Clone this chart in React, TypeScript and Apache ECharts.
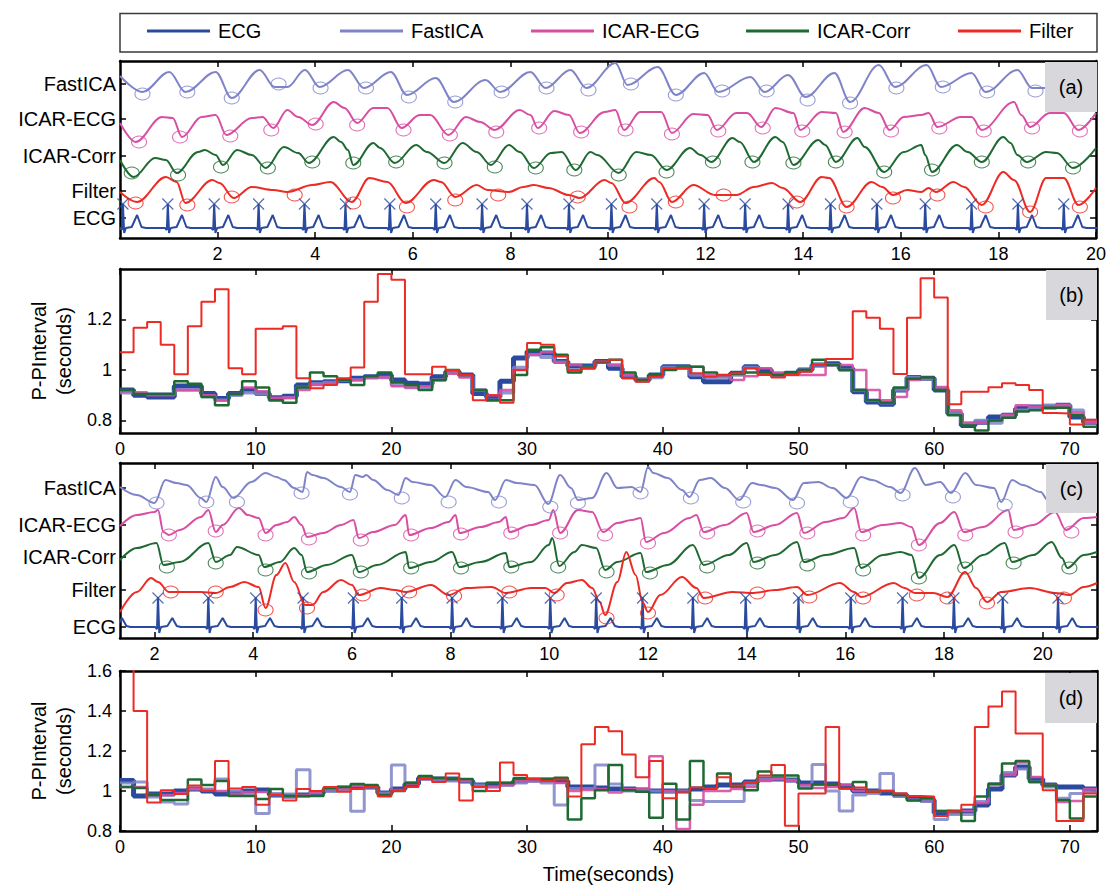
import React, { useEffect, useRef } from 'react';
import * as echarts from 'echarts';

const FONT = '"Liberation Sans", Arial, Helvetica, sans-serif';
const C_ECG = '#294a9e';
const C_FAST = '#7f84c8';
const C_IECG = '#d84ea2';
const C_ICORR = '#1f6a33';
const C_FILT = '#ec2b25';

const LEGEND_NAMES = ['ECG', 'FastICA', 'ICAR-ECG', 'ICAR-Corr', 'Filter'];
const LEGEND_X = [147, 340, 531, 746, 958];

// ---------- Panel (a) ----------
const A_X_TICKS = [2, 4, 6, 8, 10, 12, 14, 16, 18, 20];
const A_ROW_VALUES = [20, 47, 82, 119, 154];
const A_ROW_LABELS = ['ECG', 'Filter', 'ICAR-Corr', 'ICAR-ECG', 'FastICA'];

const A_ECG_BASE = 10;
const A_ECG_R = [0.06, 0.98, 1.93, 2.84, 3.78, 4.62, 5.53, 6.47, 7.42, 8.34, 9.2, 10.07, 11.0, 11.97, 12.81, 13.69, 14.56, 15.51, 16.5, 17.45, 18.4, 19.34];
const A_ECG_SHAPE = [[-0.06, 0], [-0.02, -2], [0, 24], [0.025, -5], [0.06, 0], [0.18, 1], [0.29, 13], [0.38, 1], [0.47, 0]];
const A_ECG_MARK_V = 34;

const A_FASTICA = [[0, 162], [0.46, 146], [1.01, 166], [1.34, 146], [1.96, 166], [2.29, 140], [2.86, 168], [3.17, 151], [3.43, 151], [3.79, 168], [4.09, 151], [4.67, 168], [5.0, 150], [5.55, 166], [5.88, 143], [6.47, 160], [6.84, 136], [7.49, 158], [7.79, 146], [8.41, 166], [8.72, 150], [9.23, 168], [9.56, 150], [10.15, 175], [10.4, 153], [11.02, 171], [11.39, 143], [11.97, 165], [12.26, 146], [12.92, 161], [13.21, 146], [13.69, 163], [14.05, 141], [14.64, 165], [14.96, 136], [15.55, 173], [15.88, 151], [16.53, 173], [16.82, 151], [17.45, 165], [17.74, 146], [18.39, 168], [18.69, 150], [19.05, 150], [19.5, 152], [20, 153]];
const A_FASTICA_P = [[0.46, 144], [1.38, 146], [2.29, 140], [3.25, 154], [4.11, 150], [5.04, 150], [5.92, 141], [6.87, 136], [7.82, 146], [8.74, 150], [9.6, 148], [10.47, 154], [11.39, 143], [12.34, 147], [13.25, 147], [14.09, 138], [14.96, 135], [15.91, 150], [16.86, 151], [17.77, 146], [18.76, 147]];

const A_ICAR_ECG = [[0, 115], [0.32, 96], [0.86, 121], [1.08, 120], [1.27, 101], [1.67, 121], [1.96, 123], [2.18, 103], [2.7, 120], [2.92, 121], [3.14, 110], [3.43, 128], [3.65, 121], [3.94, 113], [4.38, 136], [4.6, 130], [4.86, 115], [5.19, 130], [5.48, 130], [5.77, 110], [6.14, 123], [6.36, 123], [6.73, 103], [7.09, 121], [7.38, 116], [7.68, 108], [8.19, 128], [8.41, 123], [8.56, 110], [8.9, 127], [9.2, 123], [9.42, 105], [9.93, 126], [10.15, 128], [10.33, 108], [10.66, 126], [11.09, 126], [11.31, 105], [11.75, 124], [12.04, 123], [12.23, 108], [12.63, 125], [12.85, 125], [13.14, 111], [13.43, 130], [13.8, 125], [13.94, 108], [14.38, 126], [14.67, 125], [14.82, 106], [15.26, 130], [15.55, 125], [15.77, 108], [16.06, 121], [16.42, 123], [16.57, 125], [16.75, 111], [17.23, 121], [17.45, 121], [17.66, 108], [18.32, 136], [18.47, 123], [18.65, 111], [19.05, 125], [19.34, 125], [19.64, 108], [20, 125]];
const A_ICAR_ECG_P = [[0.39, 96], [1.23, 101], [2.26, 102], [3.1, 108], [4.01, 114], [4.86, 113], [5.81, 108], [6.76, 103], [7.71, 106], [8.59, 110], [9.45, 106], [10.36, 108], [11.31, 104], [12.26, 107], [13.17, 110], [13.98, 107], [14.85, 106], [15.8, 107], [16.79, 110], [17.7, 107], [18.69, 110], [19.67, 107]];

const A_ICAR_CORR = [[0, 78], [0.28, 61], [0.72, 80], [0.94, 78], [1.16, 65], [1.6, 86], [1.74, 88], [1.96, 83], [2.11, 73], [2.4, 88], [2.7, 83], [2.99, 70], [3.36, 91], [3.65, 85], [3.87, 75], [4.38, 101], [4.53, 96], [4.67, 88], [4.78, 73], [5.19, 95], [5.33, 90], [5.63, 75], [6.07, 93], [6.29, 86], [6.65, 75], [7.02, 95], [7.31, 86], [7.6, 73], [7.97, 93], [8.19, 86], [8.48, 70], [8.83, 85], [9.05, 86], [9.34, 68], [9.64, 86], [9.78, 83], [10.22, 65], [10.58, 86], [10.88, 83], [11.2, 68], [11.68, 90], [11.9, 83], [12.12, 76], [12.55, 100], [12.7, 96], [12.99, 76], [13.43, 101], [13.58, 96], [13.8, 73], [14.31, 98], [14.45, 93], [14.67, 76], [15.11, 100], [15.26, 91], [15.66, 66], [16.06, 86], [16.42, 93], [16.5, 83], [16.64, 66], [17.15, 93], [17.37, 86], [17.66, 76], [18.1, 101], [18.25, 95], [18.39, 83], [18.58, 76], [18.98, 86], [19.2, 85], [19.53, 70], [20, 90]];
const A_ICAR_CORR_P = [[0.24, 65], [1.19, 63], [2.07, 71], [3.03, 70], [3.94, 76], [4.78, 75], [5.66, 76], [6.65, 75], [7.68, 71], [8.52, 70], [9.31, 68], [10.22, 63], [11.2, 66], [12.15, 76], [12.96, 76], [13.8, 75], [14.67, 76], [15.66, 66], [16.64, 68], [17.66, 76], [18.61, 76], [19.53, 70]];

const A_FILTER = [[0, 46], [0.35, 36], [0.94, 61], [1.16, 56], [1.34, 35], [1.89, 58], [2.04, 55], [2.33, 40], [2.7, 51], [3.14, 48], [3.43, 46], [3.94, 53], [4.31, 56], [4.75, 36], [5.11, 60], [5.48, 56], [5.85, 35], [6.43, 58], [6.58, 56], [6.87, 41], [7.31, 53], [7.53, 48], [7.97, 46], [8.26, 51], [8.48, 53], [8.78, 50], [9.2, 43], [9.42, 40], [9.93, 58], [10.07, 55], [10.36, 35], [10.95, 60], [11.05, 56], [11.31, 36], [11.75, 53], [12.19, 43], [12.63, 43], [12.99, 51], [13.36, 55], [13.58, 50], [13.94, 36], [14.38, 61], [14.53, 60], [14.89, 31], [15.4, 56], [15.62, 51], [15.84, 43], [16.13, 48], [16.42, 46], [16.57, 50], [16.72, 46], [17.08, 56], [17.3, 51], [17.66, 33], [18.1, 66], [18.32, 58], [18.65, 26], [18.98, 60], [19.34, 60], [19.64, 33], [20, 50]];
const A_FILTER_P = [[0.32, 35], [1.38, 33], [2.29, 41], [3.58, 43], [4.78, 35], [5.88, 31], [6.87, 38], [7.75, 43], [9.38, 41], [10.44, 31], [11.39, 36], [12.37, 43], [13.87, 36], [14.89, 31], [15.84, 40], [16.75, 43], [17.74, 31], [18.65, 26], [19.67, 31]];

// ---------- Panel (c) ----------
const C_X_TICKS = [2, 4, 6, 8, 10, 12, 14, 16, 18, 20];
const C_ROW_VALUES = [11, 48, 81, 113, 150];
const C_ROW_LABELS = ['ECG', 'Filter', 'ICAR-Corr', 'ICAR-ECG', 'FastICA'];

const C_ECG_BASE = 11;
const C_ECG_R = [1.05, 2.07, 3.09, 4.05, 5.01, 6.03, 7.01, 8.03, 9.05, 10.02, 10.95, 11.89, 12.91, 13.98, 15.05, 16.11, 17.16, 18.2, 19.19, 20.31];
const C_ECG_SHAPE = [[-0.06, 0], [-0.02, -2], [0, 30], [0.025, -6], [0.06, 0], [0.19, 1], [0.29, 9], [0.38, 1], [0.46, 0]];
const C_ECG_MARK_V = 40;

const C_FASTICA = [[1.3, 151], [1.64, 143], [2.0, 135], [2.22, 158], [2.44, 155], [2.65, 153], [2.94, 140], [3.05, 136], [3.24, 161], [3.38, 151], [3.6, 140], [3.96, 156], [4.25, 165], [4.47, 161], [4.62, 158], [4.83, 150], [5.0, 146], [5.09, 166], [5.2, 163], [5.42, 160], [5.78, 151], [5.96, 146], [6.07, 163], [6.22, 161], [6.29, 163], [6.43, 158], [6.72, 148], [6.94, 143], [7.09, 160], [7.23, 156], [7.6, 153], [7.89, 141], [8.1, 158], [8.32, 151], [8.76, 146], [8.9, 138], [9.12, 158], [9.34, 155], [9.7, 153], [9.98, 134], [10.22, 163], [10.44, 150], [10.58, 138], [10.87, 140], [11.16, 165], [11.38, 150], [11.67, 151], [11.85, 146], [12.0, 171], [12.11, 165], [12.4, 160], [12.69, 148], [12.84, 141], [13.05, 158], [13.27, 160], [13.56, 150], [13.85, 138], [14.11, 155], [14.29, 153], [14.58, 150], [14.94, 138], [15.16, 155], [15.45, 156], [15.74, 150], [16.03, 140], [16.32, 161], [16.54, 158], [16.91, 151], [17.12, 145], [17.41, 170], [17.63, 153], [17.92, 156], [18.14, 145], [18.43, 165], [18.65, 153], [19.01, 150], [19.16, 136], [19.38, 158], [19.59, 153], [19.96, 146], [20.1, 138], [20.5, 150], [21.1, 148]];
const C_FASTICA_P = [[2.04, 135], [3.05, 136], [3.67, 136], [4.98, 145], [5.96, 144], [7.01, 140], [7.96, 136], [8.98, 136], [10.02, 131], [10.58, 135], [11.85, 145], [12.87, 140], [13.93, 136], [15.02, 135], [16.11, 136], [17.16, 143], [18.18, 141], [19.23, 133]];

const C_ICAR_ECG = [[1.3, 112], [1.64, 123], [2.0, 126], [2.07, 128], [2.18, 106], [2.29, 103], [2.51, 108], [2.94, 121], [3.09, 128], [3.24, 106], [3.38, 113], [3.71, 130], [3.89, 123], [4.11, 120], [4.25, 105], [4.47, 113], [4.69, 116], [4.83, 121], [4.98, 113], [5.09, 101], [5.42, 105], [5.78, 113], [6.03, 118], [6.14, 100], [6.43, 106], [6.87, 113], [7.09, 123], [7.16, 103], [7.6, 110], [7.96, 116], [8.1, 123], [8.18, 105], [8.61, 111], [8.98, 116], [9.12, 121], [9.19, 106], [9.63, 113], [9.99, 118], [10.08, 128], [10.22, 105], [10.58, 128], [10.87, 126], [11.09, 106], [11.38, 115], [11.67, 118], [11.85, 120], [11.96, 96], [12.33, 105], [12.84, 120], [12.98, 123], [13.13, 106], [13.56, 113], [14.0, 125], [14.14, 106], [14.58, 113], [15.02, 125], [15.16, 105], [15.6, 116], [15.96, 120], [16.18, 130], [16.32, 106], [16.76, 113], [17.12, 115], [17.34, 111], [17.49, 93], [17.92, 115], [18.21, 126], [18.4, 106], [18.79, 111], [19.3, 128], [19.41, 108], [19.81, 113], [20.25, 126], [20.47, 108], [20.83, 120], [21.1, 121]];
const C_ICAR_ECG_P = [[2.29, 103], [3.24, 107], [4.25, 103], [5.13, 99], [6.18, 98], [7.2, 103], [8.21, 104], [9.23, 105], [10.22, 105], [11.13, 103], [12.0, 95], [13.2, 105], [14.22, 107], [15.23, 105], [16.36, 103], [17.49, 93], [18.43, 103], [19.45, 106], [20.58, 106]];

const C_ICAR_CORR = [[1.3, 78], [1.64, 90], [2.04, 95], [2.18, 73], [2.51, 76], [3.09, 95], [3.24, 76], [3.53, 83], [3.67, 91], [4.11, 83], [4.22, 71], [4.54, 76], [4.83, 90], [4.98, 83], [5.09, 66], [5.49, 73], [6.0, 83], [6.14, 66], [6.51, 73], [7.09, 86], [7.16, 70], [7.6, 76], [8.03, 86], [8.18, 71], [8.61, 76], [9.12, 85], [9.19, 71], [9.63, 76], [9.99, 93], [10.06, 100], [10.2, 72], [10.51, 86], [10.66, 93], [10.95, 90], [11.13, 68], [11.38, 76], [11.85, 85], [11.96, 66], [12.4, 73], [12.91, 93], [13.13, 73], [13.64, 83], [14.0, 95], [14.14, 76], [14.58, 83], [15.02, 96], [15.16, 76], [15.6, 83], [16.18, 90], [16.32, 70], [16.76, 83], [17.12, 86], [17.34, 83], [17.49, 60], [17.92, 83], [18.21, 93], [18.4, 70], [18.79, 83], [19.23, 95], [19.38, 76], [19.81, 83], [20.18, 96], [20.39, 80], [20.5, 70], [20.83, 83], [21.1, 86]];
const C_ICAR_CORR_P = [[2.25, 71], [3.24, 75], [4.25, 68], [5.13, 65], [6.18, 66], [7.2, 70], [8.21, 70], [9.23, 71], [10.18, 71], [11.16, 66], [12.04, 65], [13.2, 71], [14.22, 75], [15.23, 73], [16.36, 68], [17.49, 60], [18.43, 70], [19.41, 75], [20.54, 70]];

const C_FILTER = [[1.3, 26], [1.64, 46], [1.93, 60], [2.07, 56], [2.29, 46], [2.94, 46], [3.24, 45], [3.53, 51], [3.82, 56], [4.11, 51], [4.25, 30], [4.47, 63], [4.65, 75], [4.83, 56], [5.05, 33], [5.2, 33], [5.42, 46], [5.78, 58], [6.0, 53], [6.14, 43], [6.58, 50], [6.87, 48], [7.09, 46], [7.6, 53], [7.96, 43], [8.32, 50], [8.83, 51], [9.12, 45], [9.63, 50], [9.92, 50], [10.1, 45], [10.36, 55], [10.66, 58], [10.87, 50], [11.02, 36], [11.13, 23], [11.38, 56], [11.56, 86], [11.75, 63], [11.89, 36], [12.0, 26], [12.25, 43], [12.69, 61], [12.98, 50], [13.13, 40], [13.71, 46], [14.14, 45], [14.58, 48], [15.02, 51], [15.23, 43], [15.89, 55], [16.18, 46], [16.32, 41], [16.98, 55], [17.2, 50], [17.41, 45], [17.78, 45], [18.07, 41], [18.43, 66], [18.65, 50], [18.87, 36], [19.16, 46], [19.74, 50], [20.25, 45], [20.54, 43], [20.83, 51], [21.1, 55]];
const C_FILTER_P = [[2.33, 46], [3.24, 46], [4.25, 28], [5.09, 30], [6.22, 43], [7.16, 46], [8.07, 42], [9.19, 46], [10.15, 43], [11.16, 20], [12.0, 25], [13.16, 40], [14.22, 45], [15.27, 41], [16.36, 40], [17.45, 43], [18.07, 40], [18.87, 35], [20.43, 40]];

// ---------- P-P interval step series (b) and (d) ----------
const PP_T = [0, 1, 2, 3, 4, 5, 6, 7, 8, 9, 10, 11, 12, 13, 14, 15, 16, 17, 18, 19, 20, 21, 22, 23, 24, 25, 26, 27, 28, 29, 30, 31, 32, 33, 34, 35, 36, 37, 38, 39, 40, 41, 42, 43, 44, 45, 46, 47, 48, 49, 50, 51, 52, 53, 54, 55, 56, 57, 58, 59, 60, 61, 62, 63, 64, 65, 66, 67, 68, 69, 70, 71, 72];
const PP_X_TICKS = [0, 10, 20, 30, 40, 50, 60, 70];
const B_Y_TICKS = [0.8, 1, 1.2];
const D_Y_TICKS = [0.8, 1, 1.2, 1.4, 1.6];

const B_ECG = [0.92, 0.9, 0.893, 0.893, 0.936, 0.936, 0.907, 0.887, 0.907, 0.92, 0.907, 0.89, 0.896, 0.94, 0.949, 0.953, 0.957, 0.967, 0.973, 0.98, 0.96, 0.947, 0.944, 0.973, 0.993, 0.98, 0.907, 0.893, 0.955, 1.047, 1.073, 1.067, 1.033, 1.016, 1.016, 1.033, 1.007, 0.973, 0.96, 0.98, 1.013, 1.013, 0.973, 0.953, 0.953, 0.987, 1.013, 1.0, 0.98, 0.987, 1.0, 1.02, 1.024, 1.007, 0.913, 0.873, 0.864, 0.92, 0.97, 0.967, 0.92, 0.827, 0.78, 0.793, 0.813, 0.82, 0.847, 0.853, 0.853, 0.86, 0.813, 0.793];
const B_FASTICA = [0.91, 0.91, 0.905, 0.905, 0.92, 0.92, 0.895, 0.88, 0.9, 0.91, 0.905, 0.88, 0.89, 0.93, 0.945, 0.95, 0.96, 0.96, 0.97, 0.97, 0.94, 0.93, 0.93, 0.96, 0.99, 0.975, 0.92, 0.88, 0.91, 1.01, 1.06, 1.05, 1.03, 1.0, 1.01, 1.03, 1.02, 0.98, 0.96, 0.97, 1.01, 1.01, 0.98, 0.97, 0.97, 0.98, 1.01, 0.985, 0.98, 0.985, 1.0, 1.02, 1.02, 1.0, 0.92, 0.88, 0.87, 0.92, 0.97, 0.965, 0.93, 0.83, 0.79, 0.8, 0.79, 0.82, 0.84, 0.85, 0.86, 0.86, 0.84, 0.8];
const B_ICAR_ECG = [0.915, 0.91, 0.9, 0.9, 0.92, 0.92, 0.9, 0.88, 0.905, 0.93, 0.915, 0.89, 0.89, 0.92, 0.94, 0.945, 0.96, 0.96, 0.97, 0.97, 0.935, 0.93, 0.935, 0.96, 0.985, 0.97, 0.92, 0.9, 0.92, 1.0, 1.06, 1.07, 1.03, 1.02, 1.005, 1.03, 1.02, 0.98, 0.96, 0.975, 1.005, 1.005, 1.013, 0.98, 0.975, 0.96, 0.975, 1.007, 0.99, 0.98, 0.98, 0.98, 1.02, 1.02, 1.0, 0.92, 0.88, 0.893, 0.96, 0.965, 0.93, 0.84, 0.79, 0.79, 0.8, 0.82, 0.86, 0.855, 0.85, 0.86, 0.83, 0.79];
const B_ICAR_CORR = [0.92, 0.905, 0.905, 0.905, 0.955, 0.945, 0.893, 0.86, 0.905, 0.955, 0.93, 0.88, 0.87, 0.93, 0.99, 0.975, 0.96, 0.94, 0.975, 0.99, 0.95, 0.94, 0.92, 0.96, 1.0, 0.98, 0.92, 0.88, 0.88, 0.98, 1.08, 1.09, 1.06, 0.99, 1.01, 1.03, 1.04, 0.99, 0.96, 0.98, 1.0, 1.01, 1.013, 0.99, 0.98, 0.985, 0.99, 0.99, 0.98, 0.99, 1.0, 1.04, 1.02, 1.0, 0.92, 0.88, 0.87, 0.93, 0.965, 0.97, 0.92, 0.82, 0.78, 0.76, 0.8, 0.81, 0.835, 0.84, 0.85, 0.85, 0.82, 0.775];
const B_FILTER = [1.07, 1.167, 1.19, 1.1, 0.983, 1.173, 1.27, 1.32, 1.007, 0.983, 1.163, 1.163, 1.173, 0.967, 0.927, 0.94, 0.967, 1.01, 1.27, 1.38, 1.357, 0.983, 0.983, 1.013, 1.0, 0.98, 0.88, 0.9, 0.87, 1.0, 1.107, 1.1, 1.053, 1.0, 1.007, 1.033, 1.04, 0.967, 0.953, 0.973, 1.007, 1.007, 0.987, 0.973, 0.98, 0.987, 1.007, 0.98, 0.97, 0.98, 0.993, 1.02, 1.043, 1.043, 1.233, 1.207, 1.163, 0.984, 1.207, 1.363, 1.287, 0.864, 0.913, 0.913, 0.931, 0.947, 0.94, 0.92, 0.829, 0.827, 0.784, 0.803];

const D_ECG = [1.053, 0.975, 0.985, 0.985, 1.0, 1.01, 1.0, 0.985, 0.99, 1.0, 1.005, 0.98, 0.975, 0.98, 0.99, 1.005, 1.015, 1.02, 1.02, 0.99, 1.01, 1.035, 1.065, 1.06, 1.06, 1.05, 1.03, 1.035, 1.035, 1.05, 1.055, 1.055, 1.05, 1.02, 1.02, 1.015, 1.01, 1.01, 1.005, 1.0, 1.0, 1.0, 1.01, 1.02, 1.03, 1.03, 1.045, 1.06, 1.06, 1.055, 1.04, 1.04, 1.035, 1.025, 1.0, 1.0, 0.99, 0.98, 0.965, 0.955, 0.89, 0.895, 0.9, 0.93, 1.01, 1.08, 1.12, 1.06, 1.03, 1.02, 1.02, 1.01];
const D_FASTICA = [1.04, 1.045, 0.97, 0.945, 0.935, 1.01, 1.01, 1.06, 1.0, 0.98, 0.887, 0.98, 0.985, 1.106, 0.99, 1.0, 1.005, 0.899, 1.02, 0.99, 1.13, 1.04, 1.06, 1.055, 1.05, 1.05, 1.03, 1.02, 1.03, 1.04, 1.05, 1.04, 0.93, 1.012, 1.012, 1.13, 1.035, 1.0, 1.0, 1.0, 0.996, 1.0, 0.952, 0.947, 0.947, 0.947, 1.03, 1.06, 1.06, 1.055, 1.02, 1.133, 1.0, 0.9, 0.98, 0.988, 1.088, 0.972, 0.955, 0.947, 0.858, 0.883, 0.883, 0.947, 1.036, 1.093, 1.11, 1.045, 1.02, 0.964, 0.988, 0.996];
const D_ICAR_ECG = [1.02, 1.02, 0.98, 0.98, 0.99, 1.01, 1.005, 1.0, 0.985, 0.995, 0.995, 0.985, 0.97, 0.98, 0.995, 1.01, 1.01, 1.025, 1.02, 0.985, 1.005, 1.035, 1.06, 1.06, 1.06, 1.05, 1.02, 1.02, 1.03, 1.05, 1.05, 1.05, 1.04, 1.0, 1.005, 1.01, 0.993, 1.01, 1.01, 1.174, 1.0, 0.81, 0.931, 1.0, 1.0, 1.01, 1.02, 1.05, 1.06, 1.05, 1.03, 1.015, 1.02, 1.03, 1.0, 1.0, 1.0, 0.985, 0.955, 0.96, 0.9, 0.895, 0.9, 0.94, 1.03, 1.08, 1.142, 1.07, 1.03, 0.945, 0.95, 1.01];
const D_ICAR_CORR = [1.02, 1.015, 0.98, 0.955, 0.955, 1.057, 1.03, 1.05, 0.975, 0.975, 0.96, 1.01, 0.975, 0.975, 0.975, 1.015, 1.02, 1.035, 1.03, 0.98, 1.0, 1.04, 1.075, 1.065, 1.06, 1.06, 1.0, 1.04, 1.04, 1.065, 1.06, 1.06, 1.066, 0.858, 0.964, 1.004, 1.13, 1.004, 0.996, 0.866, 1.036, 0.858, 1.15, 1.012, 1.088, 1.023, 1.004, 1.098, 1.077, 1.077, 1.012, 1.033, 1.033, 1.012, 1.045, 0.996, 1.0, 0.98, 0.952, 0.964, 0.9, 0.897, 0.85, 0.972, 1.036, 1.137, 1.15, 1.045, 1.028, 0.955, 0.862, 0.972];
const D_FILTER = [1.7, 1.4, 0.943, 1.004, 0.985, 1.028, 1.0, 1.15, 1.012, 1.02, 0.931, 0.98, 0.952, 1.01, 1.0, 1.02, 0.996, 1.01, 1.02, 0.972, 1.0, 1.02, 1.06, 1.045, 1.088, 0.952, 1.02, 1.0, 1.142, 1.08, 1.06, 1.05, 1.057, 0.972, 1.234, 1.32, 1.299, 1.182, 1.069, 1.15, 0.964, 0.996, 1.017, 1.012, 1.069, 1.028, 1.045, 1.077, 1.13, 0.826, 0.988, 0.988, 1.32, 1.012, 1.017, 0.996, 1.0, 0.988, 0.975, 0.972, 0.875, 0.899, 0.931, 1.32, 1.422, 1.498, 1.287, 1.287, 1.004, 0.85, 0.85, 0.988];

// ---------- layout ----------
const GRIDS = [
  { left: 120, top: 61, width: 977, height: 177 },
  { left: 120, top: 269, width: 977, height: 164 },
  { left: 120, top: 463, width: 977, height: 175 },
  { left: 120, top: 671, width: 977, height: 165 },
];
const PANEL_TAGS = [
  { t: '(a)', x: 1045, y: 62, w: 52, h: 50 },
  { t: '(b)', x: 1046, y: 270, w: 51, h: 50 },
  { t: '(c)', x: 1046, y: 464, w: 51, h: 49 },
  { t: '(d)', x: 1045, y: 673, w: 52, h: 50 },
];

const axisLineS = { show: true, onZero: false, lineStyle: { color: '#000', width: 2.5 } };
function tickS(custom?: number[]) {
  const t: any = { show: true, inside: true, length: 6, lineStyle: { color: '#000', width: 1.5 } };
  if (custom) t.customValues = custom;
  return t;
}
function labelS(margin: number, size: number, custom?: number[], fmt?: any) {
  const l: any = { show: true, color: '#000', fontSize: size, fontFamily: FONT, margin };
  if (custom) l.customValues = custom;
  if (fmt) l.formatter = fmt;
  return l;
}

function xPair(g: number, min: number, max: number, custom: number[], extra: any = {}) {
  const base = { type: 'value', gridIndex: g, min, max, splitLine: { show: false }, axisLine: axisLineS, axisPointer: { show: false } };
  return [
    { ...base, position: 'bottom', axisTick: tickS(custom), axisLabel: labelS(7, 18, custom, (v: number) => String(v)), ...extra },
    { ...base, position: 'top', axisTick: tickS(custom), axisLabel: { show: false } },
  ];
}
function yPair(g: number, min: number, max: number, custom: number[], fmt: any, margin: number, size: number, extra: any = {}) {
  const base = { type: 'value', gridIndex: g, min, max, splitLine: { show: false }, axisLine: axisLineS, axisPointer: { show: false } };
  return [
    { ...base, position: 'left', axisTick: tickS(custom), axisLabel: labelS(margin, size, custom, fmt), ...extra },
    { ...base, position: 'right', axisTick: tickS(custom), axisLabel: { show: false } },
  ];
}

function buildEcg(rTimes: number[], base: number, shape: number[][], tMin: number, tMax: number) {
  const pts: number[][] = [[tMin - 1, base]];
  rTimes.forEach((r) => shape.forEach(([dt, dv]) => pts.push([r + dt, base + dv])));
  pts.push([tMax + 1, base]);
  return pts.sort((a, b) => a[0] - b[0]);
}

function traceS(name: string, color: string, data: number[][], g: number, width = 2, smooth: any = 0.35) {
  return {
    type: 'line', name, data, xAxisIndex: 2 * g, yAxisIndex: 2 * g, color,
    showSymbol: false, symbol: 'none', smooth, smoothMonotone: 'x', silent: true,
    lineStyle: { color, width }, z: 2,
  };
}
function circleS(name: string, color: string, data: number[][], g: number) {
  return {
    type: 'scatter', name, data, xAxisIndex: 2 * g, yAxisIndex: 2 * g, symbol: 'circle', symbolSize: [15, 12],
    itemStyle: { color: 'rgba(0,0,0,0)', borderColor: color, borderWidth: 1 }, silent: true, z: 3,
  };
}
function crossS(rTimes: number[], v: number, g: number) {
  return {
    type: 'scatter', name: 'ECG', data: rTimes.map((t) => [t, v]), xAxisIndex: 2 * g, yAxisIndex: 2 * g,
    symbol: 'path://M0 0L10 10M10 0L0 10', symbolSize: 11,
    itemStyle: { color: 'rgba(0,0,0,0)', borderColor: C_ECG, borderWidth: 1.2 }, silent: true, z: 3,
  };
}
function stepS(name: string, color: string, vals: number[], g: number, width: number, opacity = 1) {
  const data = vals.map((v, i) => [PP_T[i], v]);
  data.push([PP_T[vals.length], vals[vals.length - 1]]);
  return {
    type: 'line', name, data, step: 'end', xAxisIndex: 2 * g, yAxisIndex: 2 * g, color,
    showSymbol: false, symbol: 'none', silent: true, lineStyle: { color, width, opacity }, z: 2,
  };
}

function buildOption() {
  const nameText = { fontSize: 20, color: '#000', fontFamily: FONT, lineHeight: 25 };
  const ppName = { name: 'P-PInterval\n(seconds)', nameLocation: 'middle', nameGap: 43, nameRotate: 90, nameTextStyle: nameText };
  const rowFmtA = (v: number) => A_ROW_LABELS[A_ROW_VALUES.indexOf(v)] ?? '';
  const rowFmtC = (v: number) => C_ROW_LABELS[C_ROW_VALUES.indexOf(v)] ?? '';
  const numFmt = (v: number) => String(Number(v.toFixed(1)));

  const xAxis = [
    ...xPair(0, 0, 20, A_X_TICKS),
    ...xPair(1, 0, 72, PP_X_TICKS),
    ...xPair(2, 1.3, 21.1, C_X_TICKS),
    ...xPair(3, 0, 72, PP_X_TICKS, { name: 'Time(seconds)', nameLocation: 'middle', nameGap: 30, nameTextStyle: nameText }),
  ];
  const yAxis = [
    ...yPair(0, 0, 177, A_ROW_VALUES, rowFmtA, 4, 20),
    ...yPair(1, 0.75, 1.4, B_Y_TICKS, numFmt, 8, 18, ppName),
    ...yPair(2, 0, 175, C_ROW_VALUES, rowFmtC, 4, 20),
    ...yPair(3, 0.8, 1.6, D_Y_TICKS, numFmt, 8, 18, ppName),
  ];

  const series: any[] = [
    // (a)
    traceS('ECG', C_ECG, buildEcg(A_ECG_R, A_ECG_BASE, A_ECG_SHAPE, 0, 20), 0, 2, false),
    traceS('FastICA', C_FAST, A_FASTICA, 0),
    traceS('ICAR-ECG', C_IECG, A_ICAR_ECG, 0),
    traceS('ICAR-Corr', C_ICORR, A_ICAR_CORR, 0),
    traceS('Filter', C_FILT, A_FILTER, 0),
    crossS(A_ECG_R, A_ECG_MARK_V, 0),
    circleS('FastICA', C_FAST, A_FASTICA_P, 0),
    circleS('ICAR-ECG', C_IECG, A_ICAR_ECG_P, 0),
    circleS('ICAR-Corr', C_ICORR, A_ICAR_CORR_P, 0),
    circleS('Filter', C_FILT, A_FILTER_P, 0),
    // (b)
    stepS('ECG', C_ECG, B_ECG, 1, 5),
    stepS('FastICA', C_FAST, B_FASTICA, 1, 3.5, 0.85),
    stepS('ICAR-ECG', C_IECG, B_ICAR_ECG, 1, 2.5, 0.9),
    stepS('ICAR-Corr', C_ICORR, B_ICAR_CORR, 1, 2.5),
    stepS('Filter', C_FILT, B_FILTER, 1, 2),
    // (c)
    traceS('ECG', C_ECG, buildEcg(C_ECG_R, C_ECG_BASE, C_ECG_SHAPE, 1.3, 21.1), 2, 2, false),
    traceS('FastICA', C_FAST, C_FASTICA, 2),
    traceS('ICAR-ECG', C_IECG, C_ICAR_ECG, 2),
    traceS('ICAR-Corr', C_ICORR, C_ICAR_CORR, 2),
    traceS('Filter', C_FILT, C_FILTER, 2),
    crossS(C_ECG_R.filter((t) => t > 1.3), C_ECG_MARK_V, 2),
    circleS('FastICA', C_FAST, C_FASTICA_P, 2),
    circleS('ICAR-ECG', C_IECG, C_ICAR_ECG_P, 2),
    circleS('ICAR-Corr', C_ICORR, C_ICAR_CORR_P, 2),
    circleS('Filter', C_FILT, C_FILTER_P, 2),
    // (d)
    stepS('ECG', C_ECG, D_ECG, 3, 5),
    stepS('FastICA', C_FAST, D_FASTICA, 3, 3, 0.85),
    stepS('ICAR-ECG', C_IECG, D_ICAR_ECG, 3, 2.5, 0.9),
    stepS('ICAR-Corr', C_ICORR, D_ICAR_CORR, 3, 2.5),
    stepS('Filter', C_FILT, D_FILTER, 3, 2),
  ];

  const legend = LEGEND_NAMES.map((n, i) => ({
    data: [n], left: LEGEND_X[i], top: 21, icon: 'rect', itemWidth: 63, itemHeight: 3, padding: 0,
    selectedMode: false, textStyle: { fontSize: 20, color: '#000', fontFamily: FONT, padding: [0, 0, 0, 3] },
  }));

  const graphic: any[] = [
    { type: 'rect', shape: { x: 120, y: 13.5, width: 977, height: 38.5 }, style: { fill: 'none', stroke: '#3a3a3a', lineWidth: 1.5 }, z: 1, silent: true },
  ];
  PANEL_TAGS.forEach((p) => {
    graphic.push({ type: 'rect', shape: { x: p.x, y: p.y, width: p.w, height: p.h }, style: { fill: '#d8d8dc' }, z: 100, silent: true });
    graphic.push({ type: 'text', x: p.x + p.w / 2, y: p.y + p.h / 2, style: { text: p.t, fontSize: 20, fontFamily: FONT, fill: '#000', align: 'center', verticalAlign: 'middle' }, z: 101, silent: true });
  });

  return {
    animation: false,
    backgroundColor: '#ffffff',
    textStyle: { fontFamily: FONT },
    grid: GRIDS.map((g) => ({ ...g, containLabel: false })),
    xAxis, yAxis, series, legend, graphic,
  };
}

export default function App() {
  const ref = useRef<HTMLDivElement>(null);
  useEffect(() => {
    const chart = echarts.init(ref.current!, null, { renderer: 'svg' });
    chart.setOption(buildOption() as any);
    return () => chart.dispose();
  }, []);
  return <div ref={ref} style={{ position: 'absolute', left: 0, top: 0, width: 1109, height: 887, background: '#fff' }} />;
}
